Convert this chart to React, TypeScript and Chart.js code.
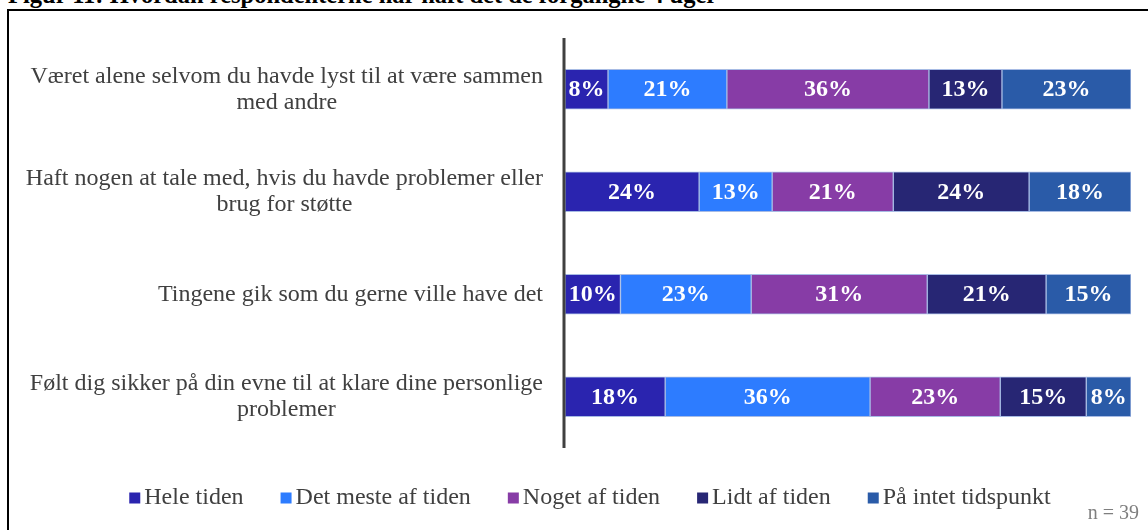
import React, { useEffect, useRef } from "react";
import { Chart, registerables } from "chart.js";

Chart.register(...registerables);

const categories: string[][] = [
  ["Været alene selvom du havde lyst til at være sammen", "med andre"],
  ["Haft nogen at tale med, hvis du havde problemer eller", "brug for støtte"],
  ["Tingene gik som du gerne ville have det"],
  ["Følt dig sikker på din evne til at klare dine personlige", "problemer"],
];

const seriesNames = ["Hele tiden", "Det meste af tiden", "Noget af tiden", "Lidt af tiden", "På intet tidspunkt"];
const seriesColors = ["#2A24AF", "#2D7CFF", "#873CA6", "#272674", "#2A5BA8"];

const heleTiden = [7.6, 23.7, 9.8, 17.7];
const detMeste = [21.0, 12.9, 23.1, 36.2];
const nogetAf = [35.7, 21.4, 31.1, 23.0];
const lidtAf = [12.9, 24.0, 21.0, 15.2];
const paaIntet = [22.8, 18.0, 15.0, 7.9];

const titleText = "Figur 11: Hvordan respondenterne har haft det de forgangne 4 uger";
const noteText = "n = 39";

const SERIF = '"Liberation Serif", "Times New Roman", serif';

const customPlugin = {
  id: "customDraw",
  afterDatasetsDraw(chart: any) {
    const ctx = chart.ctx as CanvasRenderingContext2D;
    const area = chart.chartArea;
    ctx.save();

    // data labels
    ctx.fillStyle = "#ffffff";
    ctx.font = `bold 24px ${SERIF}`;
    ctx.textAlign = "center";
    ctx.textBaseline = "middle";
    chart.data.datasets.forEach((ds: any, i: number) => {
      const meta = chart.getDatasetMeta(i);
      meta.data.forEach((bar: any, j: number) => {
        const p = bar.getProps(["x", "y", "base"], true);
        ctx.fillText(Math.round(ds.data[j]) + "%", (p.x + p.base) / 2, p.y + 1);
      });
    });

    // axis line
    ctx.strokeStyle = "#404040";
    ctx.lineWidth = 3;
    ctx.beginPath();
    ctx.moveTo(area.left - 1, area.top);
    ctx.lineTo(area.left - 1, area.bottom);
    ctx.stroke();

    // category labels
    const yScale = chart.scales.y;
    ctx.fillStyle = "#404040";
    ctx.font = `24px ${SERIF}`;
    const labelRight = area.left - 22;
    const lineH = 26;
    categories.forEach((lines, j) => {
      const cy = yScale.getPixelForValue(j);
      const w = Math.max(...lines.map((l) => ctx.measureText(l).width));
      const cx = labelRight - w / 2;
      lines.forEach((l, k) => {
        ctx.fillText(l, cx, cy + (k - (lines.length - 1) / 2) * lineH);
      });
    });

    // legend
    const box = 11;
    const gapBoxText = 4;
    const gapItems = 37;
    ctx.font = `24px ${SERIF}`;
    const widths = seriesNames.map((n) => box + gapBoxText + ctx.measureText(n).width);
    const total = widths.reduce((a, b) => a + b, 0) + gapItems * (seriesNames.length - 1);
    let x = 590 - total / 2;
    const ly = 498;
    ctx.textAlign = "left";
    seriesNames.forEach((n, i) => {
      ctx.fillStyle = seriesColors[i];
      ctx.fillRect(x, ly - box / 2, box, box);
      ctx.fillStyle = "#404040";
      ctx.fillText(n, x + box + gapBoxText, ly);
      x += widths[i] + gapItems;
    });

    // note
    ctx.fillStyle = "#7f7f7f";
    ctx.font = `20px ${SERIF}`;
    ctx.textAlign = "right";
    ctx.fillText(noteText, 1139, 514);

    ctx.restore();
  },
};

export default function App() {
  const ref = useRef<HTMLCanvasElement | null>(null);

  useEffect(() => {
    if (!ref.current) return;
    const series = [heleTiden, detMeste, nogetAf, lidtAf, paaIntet];
    const chart = new Chart(ref.current, {
      type: "bar",
      data: {
        labels: categories.map((c) => c.join(" ")),
        datasets: series.map((d, i) => ({
          label: seriesNames[i],
          data: d,
          backgroundColor: seriesColors[i],
          borderColor: "#a7bbe4",
          borderWidth: 1,
          borderSkipped: false,
          barThickness: 40,
        })),
      },
      options: {
        indexAxis: "y",
        responsive: false,
        animation: false,
        layout: { padding: { left: 565, right: 17, top: 38, bottom: 82 } },
        plugins: { legend: { display: false }, tooltip: { enabled: false }, title: { display: false } },
        scales: {
          x: { stacked: true, min: 0, max: 100, display: false },
          y: { stacked: true, display: false },
        },
      },
      plugins: [customPlugin],
    });
    return () => chart.destroy();
  }, []);

  return (
    <div style={{ position: "fixed", left: 0, top: 0, width: 1148, height: 530, overflow: "hidden", background: "#fff" }}>
      <div
        style={{
          position: "absolute",
          left: 8,
          top: -19,
          font: `bold 24.5px ${SERIF}`,
          color: "#000",
          whiteSpace: "nowrap",
          lineHeight: "28px",
        }}
      >
        {titleText}
      </div>
      <div
        style={{
          position: "absolute",
          left: 7,
          top: 9,
          width: 1300,
          height: 700,
          borderTop: "2px solid #000",
          borderLeft: "2px solid #000",
        }}
      />
      <canvas ref={ref} width={1148} height={530} style={{ position: "absolute", left: 0, top: 0, display: "block" }} />
    </div>
  );
}
